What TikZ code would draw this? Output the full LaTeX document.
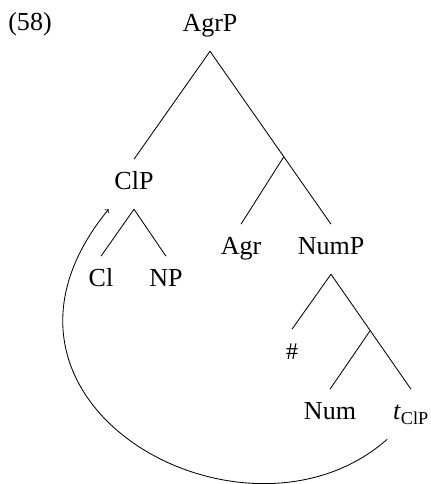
\documentclass[tikz,border=0pt]{standalone}
\usepackage{fontspec}
\setmainfont{Liberation Serif}
\begin{document}
\begin{tikzpicture}
\tikzstyle{category}=[anchor=base, text height=12.2pt, text depth=4pt, inner ysep=9.5pt, inner xsep=4pt, font=\fontsize{18.5}{22}\selectfont]
\tikzstyle{branch}=[line width=0.6pt]

\useasboundingbox (0,0) rectangle (10.775,12.1);

\node[category] (exNum) at (0.75,11.325) {(58)};

\node[category] (agrP) at (5.25,11.3) {AgrP};
\node[category] (clP) at (3.35,7.35) {ClP};
\node[category] (cl) at (2.525,4.925) {Cl};
\node[category] (np) at (4.15,4.925) {NP};
\node[category] (agr) at (6.025,5.725) {Agr};
\node[category] (numP) at (8.275,5.725) {NumP};
\node[category] (hash) at (7.3,3.1) {{\fontsize{17}{20}\selectfont\#}};
\node[category] (num) at (8.25,1.6) {Num};
\node[category] (tClP) at (10.275,1.6) {\textit{t}\textsubscript{ClP}};

\path (agrP.south) -- (numP.north) coordinate[pos=0.61] (agrBar);
\path (numP.south) -- (tClP.north) coordinate[pos=0.49] (numBar);

\draw[branch] (agrP.south) -- (clP.north);
\draw[branch] (agrP.south) -- (numP.north);
\draw[branch] (agrBar) -- (agr.north);

\draw[branch] (clP.south) -- (cl.north);
\draw[branch] (clP.south) -- (np.north);

\draw[branch] (numP.south) -- (hash.north);
\draw[branch] (numP.south) -- (tClP.north);
\draw[branch] (numBar) -- (num.north);

\draw[->,branch] (tClP.south west) .. controls (6.125,-2.025) and (-1.25,2.025) .. (clP.south west);

\end{tikzpicture}
\end{document}
